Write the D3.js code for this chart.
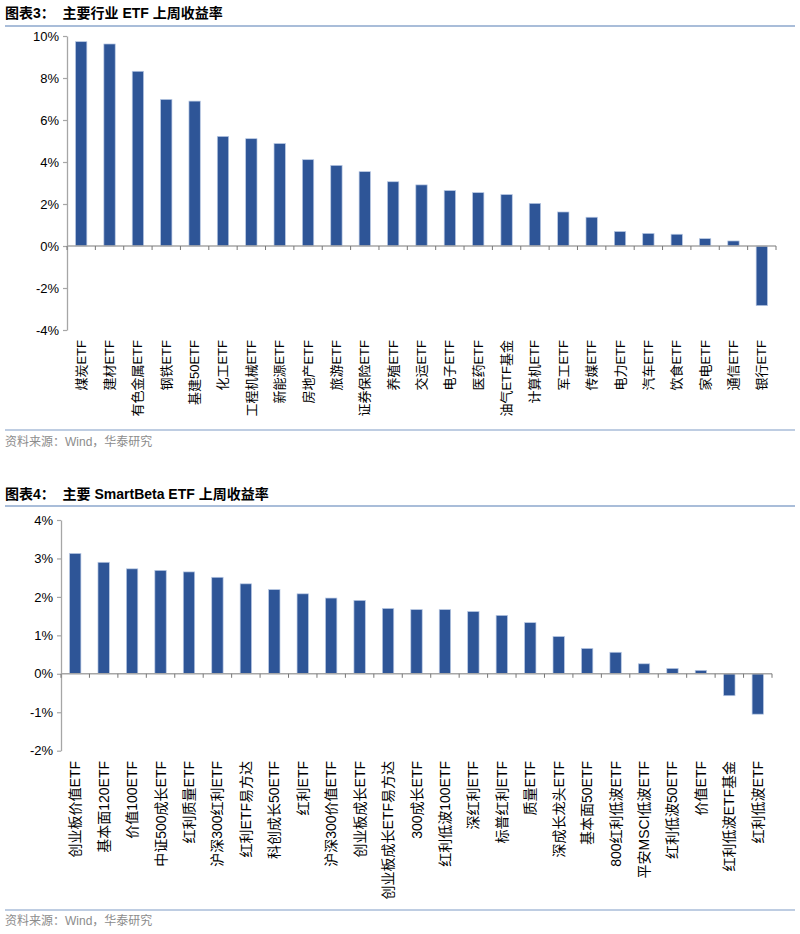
<!DOCTYPE html>
<html><head><meta charset="utf-8">
<script src="https://cdn.jsdelivr.net/npm/d3@7/dist/d3.min.js"></script>
<style>
html,body{margin:0;padding:0;background:#fff;}
svg{display:block;}
</style></head>
<body>
<svg id="chart" width="800" height="934"></svg>
<script>
// ---- Data ----
const industryCats = ["煤炭ETF","建材ETF","有色金属ETF","钢铁ETF","基建50ETF","化工ETF","工程机械ETF","新能源ETF","房地产ETF","旅游ETF","证券保险ETF","养殖ETF","交运ETF","电子ETF","医药ETF","油气ETF基金","计算机ETF","军工ETF","传媒ETF","电力ETF","汽车ETF","饮食ETF","家电ETF","通信ETF","银行ETF"];
const industryVals = [9.73,9.62,8.32,6.98,6.90,5.22,5.11,4.88,4.11,3.84,3.54,3.06,2.91,2.64,2.54,2.45,2.03,1.62,1.37,0.69,0.60,0.56,0.35,0.24,-2.84];
const industryTicks = [-4,-2,0,2,4,6,8,10];

const smartCats = ["创业板价值ETF","基本面120ETF","价值100ETF","中证500成长ETF","红利质量ETF","沪深300红利ETF","红利ETF易方达","科创成长50ETF","红利ETF","沪深300价值ETF","创业板成长ETF","创业板成长ETF易方达","300成长ETF","红利低波100ETF","深红利ETF","标普红利ETF","质量ETF","深成长龙头ETF","基本面50ETF","800红利低波ETF","平安MSCI低波ETF","红利低波50ETF","价值ETF","红利低波ETF基金","红利低波ETF"];
const smartVals = [3.13,2.90,2.73,2.69,2.65,2.51,2.34,2.19,2.08,1.97,1.91,1.70,1.67,1.67,1.62,1.52,1.33,0.97,0.66,0.56,0.26,0.14,0.09,-0.57,-1.05];
const smartTicks = [-2,-1,0,1,2,3,4];

const titles = ["图表3：  主要行业 ETF 上周收益率", "图表4：  主要 SmartBeta ETF 上周收益率"];
const sourceText = "资料来源：Wind，华泰研究";

// ---- Style ----
const BAR = "#2E5597";
const AXIS = "#a6a6a6";
const LATIN = "'Liberation Sans', Arial, sans-serif";
const MIXED = "'Liberation Sans', Arial, 'Noto Sans CJK SC', sans-serif";

const svg = d3.select("#chart");

function header(y, text) {
  svg.append("text").attr("x", 5).attr("y", y)
    .attr("font-family", MIXED)
    .attr("font-weight", "bold").attr("font-size", 14).attr("fill", "#000")
    .attr("xml:space", "preserve").text(text);
}
function rule(y, w) {
  svg.append("line").attr("x1", 5).attr("x2", 795).attr("y1", y).attr("y2", y)
    .attr("stroke", "#a9bdd9").attr("stroke-width", w);
}
function source(y) {
  svg.append("text").attr("x", 5).attr("y", y)
    .attr("font-family", MIXED)
    .attr("font-size", 12).attr("fill", "#8c8c8c").text(sourceText);
}

function barChart(cfg) {
  const {cats, vals, ticks, x0, x1, yTop, yBot, labelTop, fs} = cfg;
  const g = svg.append("g");
  const x = d3.scaleBand().domain(cats).range([x0, x1]).paddingInner(0.6).paddingOuter(0.3);
  const y = d3.scaleLinear().domain([ticks[0], ticks[ticks.length-1]]).range([yBot, yTop]);
  const step = x.step();
  const data = cats.map((c, i) => ({c, v: vals[i]}));

  // bars
  g.selectAll("rect.bar").data(data).enter().append("rect")
    .attr("class", "bar")
    .attr("x", d => x(d.c)).attr("width", x.bandwidth())
    .attr("y", d => y(Math.max(0, d.v)))
    .attr("height", d => Math.abs(y(d.v) - y(0)))
    .attr("fill", BAR).attr("stroke", "#b9c9e4").attr("stroke-width", 0.7);

  // y axis
  const ya = g.append("g").attr("transform", `translate(${x0},0)`)
    .call(d3.axisLeft(y).tickValues(ticks).tickSize(4).tickSizeOuter(0).tickFormat(d => d + "%"));
  ya.select(".domain").attr("stroke", AXIS).attr("stroke-width", 1.3);
  ya.selectAll(".tick line").attr("stroke", AXIS).attr("stroke-width", 1.2);
  ya.selectAll(".tick text").attr("font-family", LATIN).attr("font-size", 13)
    .attr("fill", "#000").attr("x", -8);

  // x axis at zero
  const bounds = cats.map(c => x(c) - (step - x.bandwidth())/2).concat([x1]);
  g.append("line").attr("x1", x0).attr("x2", x1).attr("y1", y(0)).attr("y2", y(0))
    .attr("stroke", AXIS).attr("stroke-width", 1.6);
  g.selectAll("line.xt").data(bounds).enter().append("line")
    .attr("class", "xt").attr("x1", d => d).attr("x2", d => d)
    .attr("y1", y(0)).attr("y2", y(0) + 4)
    .attr("stroke", "#777").attr("stroke-width", 1);

  // labels (rotated, reading bottom-to-top, top-aligned)
  g.selectAll("text.xl").data(data).enter().append("text")
    .attr("class", "xl")
    .attr("transform", d => `translate(${x(d.c) + x.bandwidth()/2},${labelTop}) rotate(-90)`)
    .attr("text-anchor", "end").attr("dominant-baseline", "central")
    .attr("font-family", MIXED).attr("font-size", fs).attr("fill", "#000")
    .text(d => d.c);
}

header(18, titles[0]);
rule(26, 2);
barChart({cats: industryCats, vals: industryVals, ticks: industryTicks,
  x0: 67, x1: 776, yTop: 36, yBot: 330, labelTop: 340, fs: 13});
rule(430, 1.5);
source(446);

header(499, titles[1]);
rule(506, 2);
barChart({cats: smartCats, vals: smartVals, ticks: smartTicks,
  x0: 61, x1: 772, yTop: 520, yBot: 750.7, labelTop: 761, fs: 14});
rule(910, 1.5);
source(925);
</script>
</body></html>
